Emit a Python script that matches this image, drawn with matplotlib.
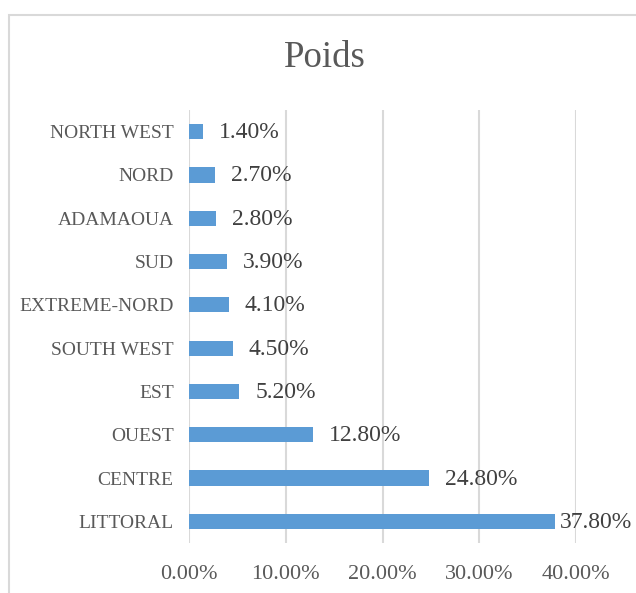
import matplotlib
matplotlib.use("Agg")
import matplotlib.pyplot as plt
from matplotlib.patches import Rectangle
from matplotlib.ticker import FuncFormatter, MultipleLocator

categories = ["LITTORAL", "CENTRE", "OUEST", "EST", "SOUTH WEST",
              "EXTREME-NORD", "SUD", "ADAMAOUA", "NORD", "NORTH WEST"]
values = [0.378, 0.248, 0.128, 0.052, 0.045, 0.041, 0.039, 0.028, 0.027, 0.014]
title = "Poids"

plt.rcParams['font.family'] = ['Liberation Serif', 'DejaVu Serif']

W, H, DPI = 636, 593, 100
fig = plt.figure(figsize=(W / DPI, H / DPI), dpi=DPI)

# chart border (only left/top visible in the reference)
fig.patches.append(Rectangle((9 / W, -0.1), 1.2, 1 - 15 / H + 0.1,
                             transform=fig.transFigure, fill=False,
                             edgecolor='#d9d9d9', linewidth=1.5))

top_px, bot_px = 110, 543
ax = fig.add_axes([189 / W, 1 - bot_px / H, (576 - 189) / W, (bot_px - top_px) / H])
y = list(range(len(categories)))
ax.barh(y, values, height=0.35, color='#5b9bd5', zorder=3)
ax.set_xlim(0, 0.4)
ax.set_ylim(-0.5, len(categories) - 0.5)
ax.set_yticks(y)
ax.set_yticklabels(categories, fontsize=14, color='#595959')
ax.xaxis.set_major_locator(MultipleLocator(0.1))
ax.xaxis.set_major_formatter(FuncFormatter(lambda v, p: f"{v*100:.2f}%"))
ax.tick_params(axis='x', labelsize=16, colors='#595959', length=0, pad=15.5)
ax.tick_params(axis='y', length=0, pad=11)
ax.grid(axis='x', color='#d9d9d9', linewidth=1.5, zorder=0)
for s in ax.spines.values():
    s.set_visible(False)

fig.text(325 / W, 1 - 58 / H, title, fontsize=26.5, color='#595959',
         ha='center', va='center')

fig.canvas.draw()
renderer = fig.canvas.get_renderer()
for yi, v in zip(y, values):
    xd, yd = ax.transData.transform((v, yi))
    t = fig.text((xd + 16) / W, (yd - 1) / H, f"{v*100:.2f}%", fontsize=17,
                 color='#404040', ha='left', va='center')
    bb = t.get_window_extent(renderer)
    if bb.x1 > W - 4:
        t.set_position(((W - 4) / W, (yd - 1) / H))
        t.set_ha('right')

fig.savefig("out.png", dpi=DPI)
